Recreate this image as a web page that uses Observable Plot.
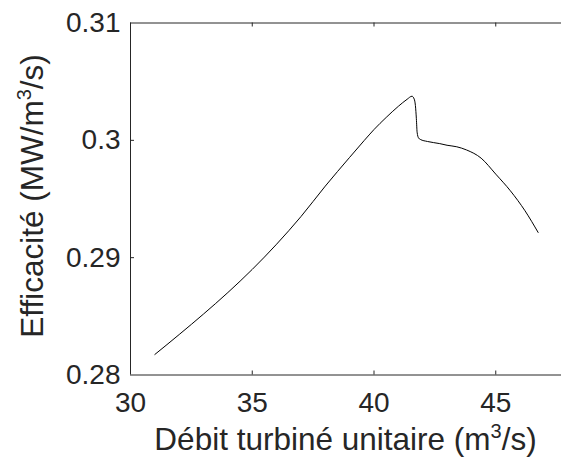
<!DOCTYPE html>
<html><head><meta charset="utf-8">
<script src="https://cdn.jsdelivr.net/npm/d3@7"></script>
<script src="https://cdn.jsdelivr.net/npm/@observablehq/plot@0.6"></script>
<style>html,body{margin:0;padding:0;background:#fff;overflow:hidden}</style>
</head><body><div id="chart"></div>
<script>
const debit = [31.0, 32.0, 33.0, 34.0, 35.0, 36.0, 37.0, 38.0, 39.0, 39.6, 40.0, 40.5, 41.0, 41.36, 41.56, 41.65, 41.70, 41.74, 41.77, 41.83, 41.9, 42.2, 42.7, 43.0, 43.4, 43.8, 44.4, 45.0, 45.6, 46.2, 46.74];
const efficacite = [0.28175, 0.28345, 0.28520, 0.28703, 0.28900, 0.29115, 0.29350, 0.29610, 0.29855, 0.29999, 0.30092, 0.30195, 0.30290, 0.30350, 0.30376, 0.30352, 0.30297, 0.30184, 0.30070, 0.30020, 0.30008, 0.29990, 0.29972, 0.29958, 0.29945, 0.29918, 0.29848, 0.29712, 0.29570, 0.29400, 0.29215];
const xTicks = [30, 35, 40, 45];
const xTickLabels = ["30", "35", "40", "45"];
const yTicks = [0.28, 0.29, 0.30, 0.31];
const yTickLabels = ["0.28", "0.29", "0.3", "0.31"];
const xDomain = [30, 47.7];
const yDomain = [0.28, 0.31];
const xLabel = ["Débit turbiné unitaire (m", "3", "/s)"];
const yLabel = ["Efficacité (MW/m", "3", "/s)"];

const data = debit.map((x, i) => ({x, y: efficacite[i]}));
const W = 561, H = 458, mL = 130, mR = 0, mT = 22.5, mB = 83.5;
const plotW = W - mL - mR, plotH = H - mT - mB;
const ink = "#262626";
const tick = 4;
const font = "'Liberation Sans', Arial, Helvetica, sans-serif";

const plot = Plot.plot({
  width: W, height: H,
  marginLeft: mL, marginRight: mR, marginTop: mT, marginBottom: mB,
  style: {fontFamily: font, fontSize: "28px", color: ink, background: "#fff", overflow: "hidden"},
  x: {domain: xDomain},
  y: {domain: yDomain},
  marks: [
    Plot.ruleY(yDomain, {stroke: ink}),
    Plot.ruleX([xDomain[0]], {stroke: ink}),
    Plot.ruleX(xTicks.slice(1), {stroke: ink, insetTop: plotH - tick}),
    Plot.ruleX(xTicks.slice(1), {stroke: ink, insetBottom: plotH - tick}),
    Plot.ruleY(yTicks.slice(1, -1), {stroke: ink, insetRight: plotW - tick}),
    Plot.axisX(xTicks, {anchor: "bottom", tickSize: 0, tickPadding: 17, tickFormat: d => xTickLabels[xTicks.indexOf(d)], fill: ink, label: null}),
    Plot.axisY(yTicks, {anchor: "left", tickSize: 0, tickPadding: 10, tickFormat: d => yTickLabels[yTicks.indexOf(d)], fill: ink, label: null}),
    Plot.line(data, {x: "x", y: "y", stroke: "#000", strokeWidth: 1, curve: "monotone-x"})
  ]
});
document.getElementById("chart").appendChild(plot);

const svg = d3.select(plot);
const supSize = 20, supShift = 12, labelSize = 31.5;
function addLabel(parts, x, y, rotate) {
  const t = svg.append("text")
    .attr("font-family", font)
    .attr("font-size", labelSize)
    .attr("fill", ink)
    .attr("text-anchor", "middle")
    .attr("transform", `translate(${x},${y})` + (rotate ? " rotate(-90)" : ""));
  t.append("tspan").text(parts[0]);
  t.append("tspan").attr("font-size", supSize).attr("dy", -supShift).text(parts[1]);
  t.append("tspan").attr("dy", supShift).text(parts[2]);
}
addLabel(xLabel, mL + plotW / 2, 450, false);
addLabel(yLabel, 43, 196, true);
</script>
</body></html>
